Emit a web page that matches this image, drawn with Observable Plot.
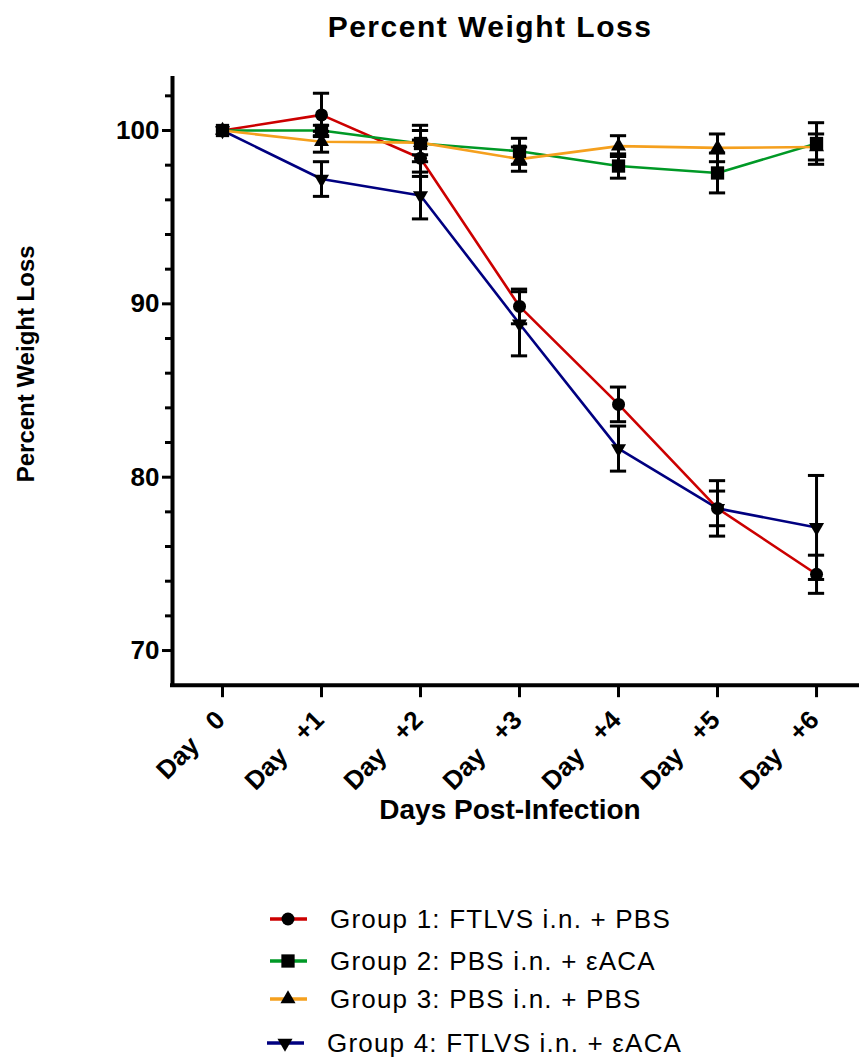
<!DOCTYPE html>
<html><head><meta charset="utf-8">
<script src="https://cdn.jsdelivr.net/npm/d3@7"></script>
<script src="https://cdn.jsdelivr.net/npm/@observablehq/plot@0.6"></script>
<style>
body{margin:0;background:#fff;width:859px;height:1059px;position:relative;overflow:hidden;font-family:"Liberation Sans",Arial,sans-serif;color:#000;}
#title{position:absolute;top:12px;left:490px;transform:translateX(-50%);white-space:nowrap;font-size:30px;line-height:30px;font-weight:bold;letter-spacing:1.5px;}
#chart{position:absolute;top:55px;left:0;}
.row{position:absolute;height:30px;display:flex;align-items:center;white-space:nowrap;font-size:26px;line-height:26px;letter-spacing:1.2px;}
</style></head><body>
<div id="title">Percent Weight Loss</div>
<div id="chart"></div>
<div id="legend"></div>
<script>
const days = [0, 1, 2, 3, 4, 5, 6];
const groupNames = [
  "Group 1: FTLVS i.n. + PBS",
  "Group 2: PBS i.n. + εACA",
  "Group 3: PBS i.n. + PBS",
  "Group 4: FTLVS i.n. + εACA"
];
const g1Mean = [100, 100.9, 98.4, 89.85, 84.2, 78.2, 74.4];
const g1Sem  = [0, 1.25, 1.05, 1.0, 1.0, 1.0, 1.1];
const g2Mean = [100, 100.0, 99.25, 98.8, 97.95, 97.55, 99.25];
const g2Sem  = [0, 0.3, 1.05, 0.75, 0.7, 1.15, 1.2];
const g3Mean = [100, 99.35, 99.3, 98.35, 99.1, 99.0, 99.05];
const g3Sem  = [0, 0.6, 0.7, 0.7, 0.6, 0.8, 0.75];
const g4Mean = [100, 97.2, 96.25, 88.85, 81.65, 78.2, 77.1];
const g4Sem  = [0, 1.0, 1.35, 1.85, 1.3, 1.6, 3.0];
const yMajorTicks = [70, 80, 90, 100];
const yMinorTicks = [72, 74, 76, 78, 82, 84, 86, 88, 92, 94, 96, 98, 102];
const sp = "\u00a0\u00a0\u00a0";
const xTickLabels = ["Day" + sp + "0", "Day" + sp + "+1", "Day" + sp + "+2", "Day" + sp + "+3", "Day" + sp + "+4", "Day" + sp + "+5", "Day" + sp + "+6"];

const colors = ["#cc0000", "#009926", "#f5a01e", "#000080"];
const sqrt3 = Math.sqrt(3);
const triangleDown = {
  draw(context, size) {
    const y = Math.sqrt(size / (sqrt3 * 3));
    context.moveTo(0, 2 * y);
    context.lineTo(sqrt3 * y, -y);
    context.lineTo(-sqrt3 * y, -y);
    context.closePath();
  }
};
const symbols = ["circle", "square", "triangle", triangleDown];
const legendSymbols = [d3.symbolCircle, d3.symbolSquare, d3.symbolTriangle, triangleDown];
const radii = [6.5, 7.5, 5.6, 5.6];

const means = [g1Mean, g2Mean, g3Mean, g4Mean];
const sems = [g1Sem, g2Sem, g3Sem, g4Sem];
const rows = means.flatMap((m, i) => days.map((d, j) => ({group: i, day: d, mean: m[j], sem: sems[i][j]})));
const byGroup = i => rows.filter(r => r.group === i);
const errRows = rows.filter(r => r.sem > 0);

const xDomain = [-0.505, 6.434];
const yDomain = [68, 103];
const capHalf = 0.082;

const lineOrder = [3, 0, 1, 2];
const dotOrder = [0, 2, 3, 1];

const chart = Plot.plot({
  width: 859,
  height: 795,
  marginTop: 23,
  marginLeft: 172,
  marginRight: 0,
  marginBottom: 165.3,
  style: {fontFamily: "'Liberation Sans', Arial, sans-serif", color: "#000", background: "transparent"},
  x: {domain: xDomain},
  y: {domain: yDomain},
  marks: [
    Plot.axisY(yMinorTicks, {tickSize: 7, strokeWidth: 3, text: null, label: null}),
    Plot.axisY(yMajorTicks, {tickSize: 10, tickPadding: 3, strokeWidth: 3, fontSize: 26, fontWeight: "bold", label: null}),
    Plot.axisX(days, {tickSize: 12.5, strokeWidth: 3, text: null, label: null}),
    Plot.axisX(days, {tickSize: 0, tickPadding: 30.5, tickRotate: -45, dx: -2,
      tickFormat: d => xTickLabels[d], fontSize: 26, fontWeight: "bold", label: null}),
    Plot.ruleX([xDomain[0]], {y1: yDomain[0], y2: yDomain[1], strokeWidth: 4, strokeLinecap: "square"}),
    Plot.ruleY([yDomain[0]], {x1: xDomain[0], x2: xDomain[1], strokeWidth: 4, strokeLinecap: "square"}),
    ...lineOrder.map(i => Plot.line(byGroup(i), {x: "day", y: "mean", stroke: colors[i], strokeWidth: 2.6})),
    Plot.ruleX(errRows, {x: "day", y1: d => d.mean - d.sem, y2: d => d.mean + d.sem, strokeWidth: 3}),
    Plot.ruleY(errRows, {x1: d => d.day - capHalf, x2: d => d.day + capHalf, y: d => d.mean + d.sem, strokeWidth: 3}),
    Plot.ruleY(errRows, {x1: d => d.day - capHalf, x2: d => d.day + capHalf, y: d => d.mean - d.sem, strokeWidth: 3}),
    ...dotOrder.map(i => Plot.dot(byGroup(i), {x: "day", y: "mean", symbol: symbols[i], r: radii[i], fill: "#000", stroke: "none"})),
    Plot.text(["Days Post-Infection"], {frameAnchor: "bottom", dy: 134, dx: -6, fontSize: 28, fontWeight: "bold"}),
    Plot.text(["Percent Weight Loss"], {frameAnchor: "left", textAnchor: "middle", rotate: -90, dx: -146, dy: -18, fontSize: 24, fontWeight: "bold"})
  ]
});
document.getElementById("chart").appendChild(chart);

// Legend
const legendRows = [
  {top: 919, lineX: 270, textX: 330},
  {top: 961, lineX: 270, textX: 330},
  {top: 999, lineX: 270, textX: 330},
  {top: 1043, lineX: 267, textX: 327}
];
const legend = document.getElementById("legend");
groupNames.forEach((name, i) => {
  const p = legendRows[i];
  const row = document.createElement("div");
  row.className = "row";
  row.style.top = (p.top - 15) + "px";
  row.style.left = (p.lineX - 4) + "px";
  const path = d3.symbol(legendSymbols[i], Math.PI * radii[i] * radii[i])();
  const svg = d3.create("svg").attr("width", 44).attr("height", 30);
  svg.append("line").attr("x1", 4).attr("x2", 41).attr("y1", 15).attr("y2", 15)
    .attr("stroke", colors[i]).attr("stroke-width", 3.5);
  svg.append("path").attr("d", path).attr("transform", "translate(22,15)").attr("fill", "#000");
  row.appendChild(svg.node());
  const span = document.createElement("span");
  span.style.marginLeft = (p.textX - (p.lineX + 40)) + "px";
  span.textContent = name;
  row.appendChild(span);
  legend.appendChild(row);
});
</script>
</body></html>
